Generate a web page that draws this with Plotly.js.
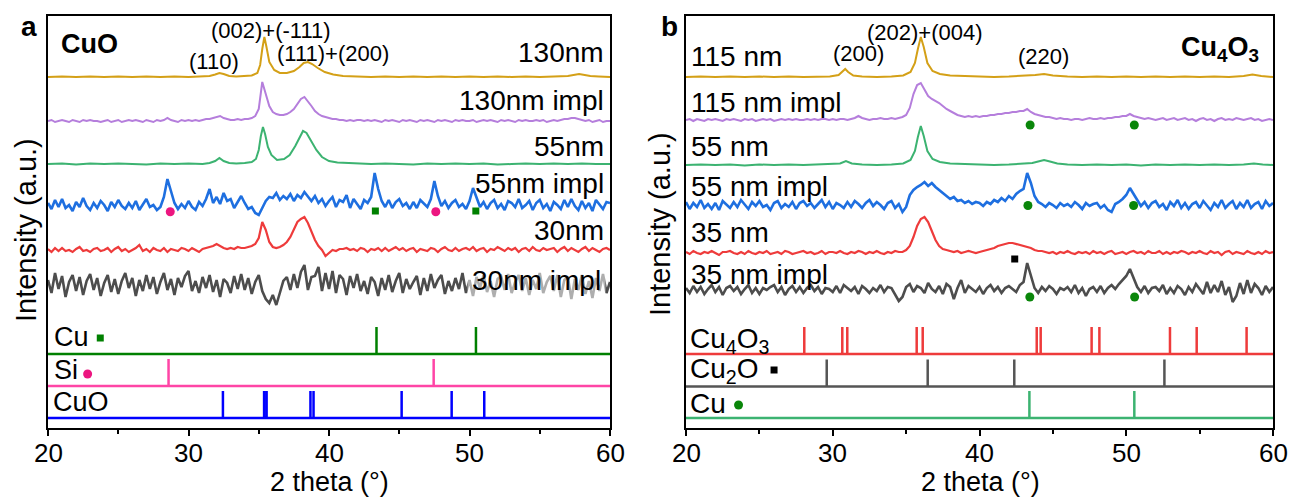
<!DOCTYPE html>
<html><head><meta charset="utf-8">
<script src="https://cdn.plot.ly/plotly-3.0.1.min.js"></script>
<style>html,body{margin:0;padding:0;background:#fff}#chart{width:1293px;height:500px}</style>
</head><body><div id="chart"></div>
<script>
// ---------- DATA ----------
const tickVals = [20,30,40,50,60];
const tickLabels = ['20','30','40','50','60'];
// measurement grid (2 theta, degrees)
const angleGrid = [20,20.25,20.5,20.75,21,21.25,21.5,21.75,22,22.25,22.5,22.75,23,23.25,23.5,23.75,24,24.25,24.5,24.75,25,25.25,25.5,25.75,26,26.25,26.5,26.75,27,27.25,27.5,27.75,28,28.25,28.5,28.75,29,29.25,29.5,29.75,30,30.25,30.5,30.75,31,31.25,31.5,31.75,32,32.25,32.5,32.75,33,33.25,33.5,33.75,34,34.25,34.5,34.75,35,35.25,35.5,35.75,36,36.25,36.5,36.75,37,37.25,37.5,37.75,38,38.25,38.5,38.75,39,39.25,39.5,39.75,40,40.25,40.5,40.75,41,41.25,41.5,41.75,42,42.25,42.5,42.75,43,43.25,43.5,43.75,44,44.25,44.5,44.75,45,45.25,45.5,45.75,46,46.25,46.5,46.75,47,47.25,47.5,47.75,48,48.25,48.5,48.75,49,49.25,49.5,49.75,50,50.25,50.5,50.75,51,51.25,51.5,51.75,52,52.25,52.5,52.75,53,53.25,53.5,53.75,54,54.25,54.5,54.75,55,55.25,55.5,55.75,56,56.25,56.5,56.75,57,57.25,57.5,57.75,58,58.25,58.5,58.75,59,59.25,59.5,59.75,60];

// Panel a (CuO)
const a130_x = [20,21,22,23,24,25,26,27,28,29,30,31,31.5,31.9,32.2,32.5,32.9,33.4,34,34.5,34.9,35.1,35.25,35.4,35.55,35.75,36.1,36.5,37,37.5,37.9,38.2,38.5,38.8,39.2,39.7,40.3,41,42,43,44,45,46,47,48,49,50,51,52,53,54,55,56,57,57.4,57.8,58.2,58.6,59.2,60];
const a130_y = [0,0.5,0,0.5,0,0.5,0,0.5,0,0.5,0,0.5,1,2.5,4,3,1,0.5,1,1.5,4,12,28,40,30,15,7,4,4,6,10,14,15,13,9,5,2.5,1,0.5,0,0.5,0,0.5,0,0.5,0,0.5,0,0.5,0,0.5,0,0.5,1,2,3,2,1,0.5,0];
const a130impl_y = [0,1,-1,0, 1,0,-1,1, 0,-1,1,0, 1,0,0,-1, 0,1,-1,0, 1,-1,0,1, 0,1,0,-1, 1,0,-1,1, 0,1,3,1, 0,-1,1,0,
 1,0,1,0, 1,2,2,3, 4,5,3,2, 1,1,2,1, 2,2,3,5, 12,39,28,15, 9,7,6,6, 7,9,12,17, 22,24,20,15, 10,7,5,4,
 3,2,2,1, 1,0,1,0, 1,1,0,1, 0,1,0,-1, 1,0,1,0, -1,1,0,1, 0,-1,1,0, 1,0,-1,1, 0,1,0,-1, 1,0,1,0,
 0,1,-1,0, 1,0,1,0, -1,1,0,1, 0,-1,1,0, 1,0,0,1, 0,1,-1,0, 1,0,1,2, 2,3,3,2, 1,0,1,-1, 0,1,-1,0, 0];
const a55_x = [20,21,22,23,24,25,26,27,28,29,30,31,31.5,31.9,32.2,32.5,32.9,33.4,34,34.5,34.8,35.0,35.15,35.3,35.45,35.65,35.9,36.3,36.8,37.2,37.6,37.9,38.15,38.4,38.7,39.1,39.5,40,40.6,41.2,42,43,44,45,46,47,48,49,50,51,52,53,54,55,56,57,58,59,60];
const a55_y = [0,0.5,-0.5,0.5,0,0.5,0,-0.5,0.5,0,0.5,0,1,3,6,3,1,0.5,1,2,5,14,28,37,30,17,9,4,5,9,18,27,33,31,24,14,7,3,1.5,1,0.5,0,0.5,0,-0.5,0.5,0,0.5,0,0.5,-0.5,0,0.5,0,0.5,0,0.5,0,0];
const a55impl_y = [2,-4,5,-2, 6,-3,0,-6, 3,-2,7,-1, -5,2,-3,4, 0,-6,3,-2, 5,-1,-4,2, -3,4,-5,1, 6,-2,0,-5, -2,8,26,14, 2,-4,1,-3,
 4,-2,-5,3, -1,6,16,2, 8,1,12,4, 6,-3,3,9, 2,-4,-2,-8, -10,-3,4,8, 7,12,5,9, 6,11,4,10, 7,13,8,4, 9,2,6,-1,
 4,8,-2,5, 3,10,-3,6, 1,-4,5,2, 8,32,16,4, -2,5,-3,3, 6,-1,2,-4, 3,-3,5,1, -2,6,24,9, -1,4,-3,2, 5,-2,1,-4,
 4,17,8,-2, 3,-4,2,5, -3,1,-5,4, 2,-2,6,-3, 0,4,-5,2, 5,-3,1,-6, 3,0,-4,5, -2,6,-1,-5, 4,-3,2,-6, 5,0,-4,3, 2];
const a30_y = [1,-2,2,-1, 2,-1,0,-2, 1,3,-1,0, -2,1,2,-1, 0,2,-2,1, 3,-1,1,-2, 0,2,5,-1, 1,-2,2,0, -1,2,-2,1, 0,-1,2,1,
 -1,2,0,-2, 1,2,3,4, 6,4,2,1, 2,1,3,2, 2,3,4,6, 12,28,20,8, 3,2,3,5, 8,13,20,28, 31,33,27,18, 10,4,0,-6,
 -3,0,-1,1, 1,2,0,1, -1,2,1,-2, 1,0,2,-1, 2,-1,1,3, 0,2,-1,1, 2,-2,1,0, -1,2,1,-2, 1,3,0,-1, 2,-1,1,2,
 0,3,-1,1, 2,-2,1,0, 3,1,-1,2, 0,2,-2,1, 2,-1,3,0, -1,2,0,1, 2,-2,1,3, -1,2,0,-2, 1,3,-1,2, 0,-2,1,2, 0];
const a30impl_y = [5,-8,12,-4, 9,-12,3,10, -6,8,-10,4, 11,-5,7,-11, 2,10,-7,6, -9,4,12,-3, 7,-11,5,-6, 10,-4,8,-9, 3,12,-5,6, -10,7,-2,9,
 14,-6,4,-8, 8,-3,10,-7, 5,-12,6,2, -8,9,-4,11, -5,7,-9,3, 10,-6,-14,-18, -10,-20,-8,4, 8,-5,11,-3, 13,20,-5,8, 9,18,-6,12,
 -4,14,-8,10, 6,-10,9,-3, 11,-6,4,-9, 8,3,-11,7, -5,10,-7,4, 12,-8,6,-4, 3,9,-10,7, -6,11,-3,5, 10,-9,4,-6, 7,-4,12,-8,
 5,-11,8,-3, 10,-7,4,-12, 6,9,-5,11, -8,3,10,-6, 7,-10,5,-4, 12,-8,3,9, -6,10,-12,5, 8,-14,6,-5, 10,-9,4,-13, 7,-6,11,-8, 3];

// reference sticks (panel a)
const refA_Cu = [43.38, 50.46];
const refA_Si = [28.58, 47.45];
const refA_CuO = [32.45, 35.38, 35.56, 38.68, 38.9, 45.17, 48.73, 51.05];
// phase markers on patterns (panel a), 2theta
const markA_Si = [28.7, 47.6];
const markA_Cu = [43.3, 50.45];

// Panel b (Cu4O3)
const b115_x = [20,21,22,23,24,25,26,27,28,29,29.8,30.4,30.65,30.85,31.05,31.4,32,33,34,34.8,35.3,35.6,35.8,36.0,36.2,36.45,36.8,37.3,38,39,40,41,42,43,43.8,44.4,45,46,47,48,49,50,51,52,53,54,55,56,57,58,58.6,59.2,60];
const b115_y = [0,0.5,0,0.5,0,0.5,0,0.5,0,0.5,0.5,2,5,8,5,1.5,0.5,0,0.5,1.5,5,14,28,40,30,14,6,3,1.5,1,0.5,0,0.5,1,2,3,1.5,0.5,0,0.5,0,0.5,0,0.5,0,0.5,0,0.5,0,1,2.5,1,0];
const b115impl_y = [0,1,-1,1, 0,-1,1,0, 1,0,-1,1, 0,1,0,-1, 1,0,1,-1, 0,1,0,1, -1,0,1,0, 1,0,1,0, 0,1,0,1, 0,1,1,0,
 1,0,1,1, 0,1,2,4, 2,1,0,1, 1,2,1,1, 2,1,2,3, 5,12,26,35, 37,30,24,21, 19,17,14,11, 9,7,5,4, 3,4,3,4,
 3,4,4,5, 5,6,6,7, 7,8,8,9, 9,11,8,6, 5,4,3,3, 2,1,2,1, 1,0,1,1, 0,1,2,1, 1,2,1,2, 2,3,3,4,
 4,6,4,3, 2,1,2,1, 0,1,2,0, 1,2,0,1, 2,0,1,-1, 1,2,0,1, -1,1,2,0, 1,0,2,1, 0,1,2,0, 1,-1,0,1, 0];
const b55_x = [20,21,22,23,24,25,26,27,28,29,30,30.5,30.9,31.3,32,33,34,34.8,35.3,35.6,35.8,36.0,36.2,36.45,36.8,37.3,38,39,40,41,42,43,43.6,44.0,44.4,44.8,45.3,46,47,48,49,50,51,52,53,54,55,56,57,58,58.7,59.3,60];
const b55_y = [0,0.5,0,0.5,-0.5,0.5,0,0.5,0,0.5,0.5,1.5,4,1.5,0.5,0,0.5,1.5,5,14,28,39,29,14,6,3,1.5,1,0.5,0,0.5,1,2,3.5,5,3.5,1.5,0.5,0,0.5,0,0.5,-0.5,0.5,0,0.5,0,0.5,0,0.5,1.5,0.5,0];
const b55impl_y = [3,-4,2,-2, 5,-3,1,-4, 2,-5,4,0, -3,3,-2,5, 1,-4,3,-1, 4,-2,0,-5, 2,4,-3,1, -2,3,-4,2, 4,-1,2,-3, 1,5,-2,3,
 -4,2,0,-3, 3,-2,4,1, -3,2,5,-1, 3,0,-4,2, 4,-3,1,-7, -2,10,15,18, 20,23,19,22, 18,15,12,9, 6,8,4,5, 2,4,1,3,
 2,-1,3,1, 5,3,7,4, 9,6,11,14, 16,32,22,9, 3,1,-2,2, 0,-3,2,-1, 1,-2,3,0, -4,2,-1,1, 2,-3,0,-5, -7,1,3,6,
 10,17,11,4, -1,3,-3,2, 4,-2,1,-5, 3,-1,5,-3, 2,-4,1,3, -3,4,0,-5, 2,-2,5,-3, 1,4,-4,2, -2,5,-3,1, 3,-4,4,-1, 2];
const b35_y = [1,-1,2,0, -1,1,0,2, 0,-2,1,1, 2,0,-1,1, -1,2,0,-1, 1,0,2,-1, 0,1,-1,2, 1,-1,0,1, 2,0,1,-1, 0,2,-1,1,
 1,0,2,0, -1,1,0,2, 1,-1,1,0, 2,0,-1,1, 0,2,1,1, 3,7,16,27, 34,36,31,22, 13,7,4,3, 2,1,2,0, 1,2,1,0,
 1,2,3,4, 5,7,8,9, 10,10,9,8, 7,6,5,3, 2,2,1,0, 1,-1,1,0, 2,0,-1,1, 0,1,-1,2, 0,1,-1,1, 2,-1,0,1,
 -1,1,2,0, 1,-1,2,0, 0,2,-1,1, -1,1,0,2, 1,-1,1,0, 2,0,-1,2, 0,1,-2,1, 2,-1,1,0, -1,2,0,-1, 1,-1,2,0, 1];
const b35impl_y = [2,-3,4,-2, 3,-4,1,5, -2,3,-5,2, 4,-1,3,-4, 1,5,-3,2, -4,2,0,3, 5,-2,3,-5, 1,4,-2,3, -3,2,5,-1, 3,-4,2,1,
 -2,4,-3,5, 2,-1,3,-4, 4,1,-3,2, -1,5,-2,3, 2,-4,-11,-7, 3,6,-2,4, 2,-3,7,1, -2,4,-4,6, 3,-9,2,10, -3,4,1,-2,
 3,-4,2,5, -1,3,-3,2, 4,1,-2,5, 8,27,14,2, -3,3,-1,4, 1,-4,2,0, 3,-2,5,-3, 2,-6,1,3, -2,4,-3,2, 5,1,6,10,
 14,21,12,3, -2,4,-3,2, 3,-1,5,-4, 2,-3,4,1, -5,3,-2,6, 1,-4,8,-3, 5,-2,9,-5, 3,-12,-6,7, -4,10,-3,6, 2,-5,4,-2, 3];

// reference sticks (panel b)
const refB_Cu4O3 = [28.06, 30.65, 30.99, 35.72, 36.13, 43.9, 44.17, 47.64, 48.17, 52.98, 54.8, 58.2];
const refB_Cu2O = [29.59, 36.47, 42.37, 52.6];
const refB_Cu = [43.4, 50.55];
// phase markers (panel b)
const markB_Cu_115impl = [43.45, 50.55];
const markB_Cu_55impl = [43.3, 50.5];
const markB_Cu_35impl = [43.43, 50.57];
const markB_Cu2O_35 = [42.4];

// ---------- LAYOUT / STYLE ----------
const FONT = 'Liberation Sans, Arial, Helvetica, sans-serif';
const PL = 48, PR = 1273, PT = 16, PB = 428;
const W = PR - PL, H = PB - PT;
const px = v => (v - PL) / W;
const py = v => (PB - v) / H;
const lvl = v => PB - v;   // pixel row -> y value

const C = {gold:'#D4A017', purple:'#B57EDC', green:'#3CB371', blue:'#1E6FE0', red:'#EE3B3B', gray:'#4D4D4D',
  cuA:'#008000', si:'#FF45A6', siDot:'#EC1680', cuo:'#0000FF', cu4o3:'#EE3B3B', cu2o:'#555555', cuB:'#3CB371', dotG:'#0A860A'};

const offA = {a130:351, a130impl:307, a55:264, a55impl:223, a30:178, a30impl:143, cu:74, si:42, cuo:10};
const offB = {b115:351, b115impl:308, b55:263, b55impl:223, b35:175, b35impl:138, cu4o3:74, cu2o:41.5, cu:10};
const stickH = 27;

function shift(arr, off){ return arr.map(v => v + off); }
function line(x, y, off, color, ax, w){
  return {type:'scatter', mode:'lines', x:x, y:shift(y, off), xaxis:ax[0], yaxis:ax[1],
    line:{color:color, width:w||2}, hoverinfo:'skip'};
}
function sticks(pos, off, color, ax){
  const xs=[20], ys=[off];
  pos.slice().sort((a,b)=>a-b).forEach(p=>{ xs.push(p,p,p); ys.push(off, off+stickH, off); });
  xs.push(60); ys.push(off);
  return {type:'scatter', mode:'lines', x:xs, y:ys, xaxis:ax[0], yaxis:ax[1], line:{color:color, width:2.5}, hoverinfo:'skip'};
}
function marks(xs, yLevel, color, symbol, size, ax){
  return {type:'scatter', mode:'markers', x:xs, y:xs.map(()=>yLevel), xaxis:ax[0], yaxis:ax[1],
    marker:{color:color, symbol:symbol, size:size, line:{width:0}}, hoverinfo:'skip'};
}
const AX_A = ['x','y'], AX_B = ['x2','y2'];

const traces = [
  sticks(refA_CuO, offA.cuo, C.cuo, AX_A),
  sticks(refA_Si, offA.si, C.si, AX_A),
  sticks(refA_Cu, offA.cu, C.cuA, AX_A),
  line(angleGrid, a30impl_y, offA.a30impl, C.gray, AX_A, 2.6),
  line(angleGrid, a30_y, offA.a30, C.red, AX_A, 2.2),
  line(angleGrid, a55impl_y, offA.a55impl, C.blue, AX_A, 2.6),
  line(a55_x, a55_y, offA.a55, C.green, AX_A),
  line(angleGrid, a130impl_y, offA.a130impl, C.purple, AX_A),
  line(a130_x, a130_y, offA.a130, C.gold, AX_A),
  marks(markA_Si, lvl(211.7), C.siDot, 'circle', 9, AX_A),
  marks(markA_Cu, lvl(211), C.cuA, 'square', 7, AX_A),
  marks([23.72], lvl(338), C.cuA, 'square', 7, AX_A),
  marks([22.82], lvl(374), C.siDot, 'circle', 9, AX_A),

  sticks(refB_Cu, offB.cu, C.cuB, AX_B),
  sticks(refB_Cu2O, offB.cu2o, C.cu2o, AX_B),
  sticks(refB_Cu4O3, offB.cu4o3, C.cu4o3, AX_B),
  line(angleGrid, b35impl_y, offB.b35impl, C.gray, AX_B, 2.6),
  line(angleGrid, b35_y, offB.b35, C.red, AX_B, 2.2),
  line(angleGrid, b55impl_y, offB.b55impl, C.blue, AX_B, 2.6),
  line(b55_x, b55_y, offB.b55, C.green, AX_B),
  line(angleGrid, b115impl_y, offB.b115impl, C.purple, AX_B),
  line(b115_x, b115_y, offB.b115, C.gold, AX_B),
  marks(markB_Cu_115impl, lvl(125), C.dotG, 'circle', 9, AX_B),
  marks(markB_Cu_55impl, lvl(205.5), C.dotG, 'circle', 9, AX_B),
  marks(markB_Cu_35impl, lvl(297), C.dotG, 'circle', 9, AX_B),
  marks(markB_Cu2O_35, lvl(259), '#000', 'square', 7, AX_B),
  marks([26.0], lvl(370), '#000', 'square', 7, AX_B),
  marks([23.58], lvl(405), C.dotG, 'circle', 9, AX_B)
];

function ann(text, x, y, size, xanchor, extra){
  return Object.assign({xref:'paper', yref:'paper', x:px(x), y:py(y), text:text, showarrow:false,
    xanchor:xanchor||'center', yanchor:'middle', font:{family:FONT, size:size, color:'#000'}}, extra||{});
}
const annotations = [
  ann('<b>a</b>', 29, 27, 28),
  ann('<b>CuO</b>', 89, 44, 27),
  ann('(110)', 213.5, 62, 22),
  ann('(002)+(-111)', 271, 31, 22),
  ann('(111)+(200)', 333, 54, 22),
  ann('130nm', 606, 53, 28, 'right'),
  ann('130nm impl', 606, 100, 28, 'right'),
  ann('55nm', 606, 146, 28, 'right'),
  ann('55nm impl', 606, 183, 28, 'right'),
  ann('30nm', 606, 230, 28, 'right'),
  ann('30nm impl', 606, 280, 28, 'right', {bgcolor:'rgba(255,255,255,0.55)', borderpad:4}),
  ann('Cu', 52, 337, 27, 'left'),
  ann('Si', 52, 370, 27, 'left'),
  ann('CuO', 51, 402, 27, 'left'),
  ann('Intensity (a.u.)', 26, 230, 29, 'center', {textangle:-90}),
  ann('2 theta (°)', 329, 482, 27, 'center', {borderpad:0}),

  ann('<b>b</b>', 669, 27, 28),
  ann('<b>Cu<sub>4</sub>O<sub>3</sub></b>', 1261, 49, 27, 'right'),
  ann('(200)', 858, 54, 22),
  ann('(202)+(004)', 925, 33, 22),
  ann('(220)', 1043.5, 57, 22),
  ann('115 nm', 689, 57, 28, 'left'),
  ann('115 nm impl', 689, 102, 28, 'left'),
  ann('55 nm', 689, 146, 28, 'left'),
  ann('55 nm impl', 689, 186, 28, 'left'),
  ann('35 nm', 689, 232, 28, 'left'),
  ann('35 nm impl', 689, 274, 28, 'left'),
  ann('Cu<sub>4</sub>O<sub>3</sub>', 688, 340, 28, 'left'),
  ann('Cu<sub>2</sub>O', 688, 370, 28, 'left'),
  ann('Cu', 688, 403.5, 28, 'left'),
  ann('Intensity (a.u.)', 660, 224, 29, 'center', {textangle:-90}),
  ann('2 theta (°)', 980, 482, 27, 'center', {borderpad:0})
];
// tick labels placed as annotations on each x axis
['x','x2'].forEach(ax => {
  tickVals.forEach((v,i) => {
    annotations.push({xref:ax, yref:'paper', x:v, y:py(453), text:tickLabels[i], showarrow:false,
      xanchor:'center', yanchor:'middle', font:{family:FONT, size:26, color:'#000'}});
  });
});

const xStyle = {range:[20,60], showline:true, linecolor:'#000', linewidth:2, mirror:true,
  ticks:'outside', ticklen:6, tickwidth:2, tickcolor:'#000', tickmode:'array', tickvals:tickVals, ticktext:tickLabels,
  showticklabels:false,
  minor:{tickmode:'array', tickvals:[25,35,45,55], ticks:'outside', ticklen:4, tickwidth:2, tickcolor:'#000'},
  showgrid:false, zeroline:false, fixedrange:true};
const yStyle = {range:[0,H], showline:true, linecolor:'#000', linewidth:2, mirror:true, ticks:'',
  showticklabels:false, showgrid:false, zeroline:false, fixedrange:true};

const xDomA = [0, px(610)], xDomB = [px(686), 1];
const layout = {
  width:1293, height:500, margin:{l:PL, r:1293-PR, t:PT, b:500-PB},
  paper_bgcolor:'#fff', plot_bgcolor:'#fff', showlegend:false,
  font:{family:FONT, size:26, color:'#000'},
  xaxis:Object.assign({}, xStyle, {domain:xDomA, anchor:'y'}),
  yaxis:Object.assign({}, yStyle, {domain:[0,1], anchor:'x'}),
  xaxis2:Object.assign({}, xStyle, {domain:xDomB, anchor:'y2'}),
  yaxis2:Object.assign({}, yStyle, {domain:[0,1], anchor:'x2'}),
  annotations:annotations
};
Plotly.newPlot('chart', traces, layout, {staticPlot:true, displayModeBar:false});
</script></body></html>
